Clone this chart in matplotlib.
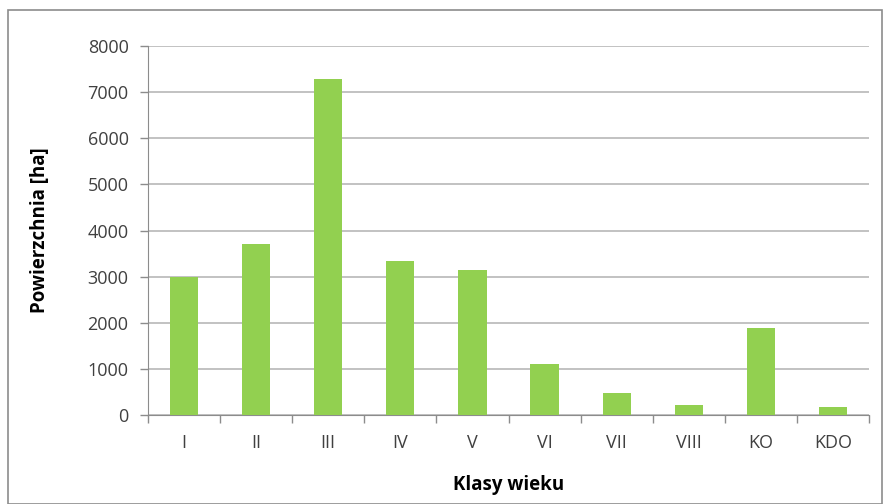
import matplotlib
matplotlib.use('Agg')
import matplotlib.pyplot as plt
from matplotlib.patches import Rectangle
import numpy as np

klasy = ['I', 'II', 'III', 'IV', 'V', 'VI', 'VII', 'VIII', 'KO', 'KDO']
powierzchnia = [2990, 3710, 7290, 3345, 3135, 1100, 478, 210, 1890, 167]

plt.rcParams['font.family'] = ['Open Sans', 'DejaVu Sans']

fig = plt.figure(figsize=(8.85, 5.04), dpi=100)
ax = fig.add_axes([148/885, 1-415/504, (869-148)/885, (415-46)/504])

# ramka wokol wykresu
fig.patches.append(Rectangle((8/885, 0.0), (882-8)/885, 1-10/504, transform=fig.transFigure,
                             fill=False, edgecolor='#8c8c8c', lw=1.2))

x = np.arange(len(klasy))
ax.bar(x, powierzchnia, width=0.39, color='#92D050', zorder=3)

ax.set_xlim(-0.5, len(klasy)-0.5)
ax.set_ylim(0, 8000)
ax.set_yticks(np.arange(0, 8001, 1000))
ax.grid(axis='y', color='#bdbdbd', lw=1.3, zorder=0)

ax.set_xticks(x)
ax.set_xticklabels(klasy)
ax.set_xticks(np.arange(-0.5, len(klasy), 1), minor=True)
ax.tick_params(axis='x', which='major', length=0, pad=14, labelsize=13, labelcolor='#404040')
ax.tick_params(axis='x', which='minor', length=6, color='#8c8c8c', width=1)
ax.tick_params(axis='y', length=6, color='#8c8c8c', width=1, pad=8, labelsize=13, labelcolor='#404040')

for s in ['top', 'right']:
    ax.spines[s].set_visible(False)
ax.spines['left'].set_color('#8c8c8c')
ax.spines['bottom'].set_color('#8c8c8c')

ax.set_xlabel('Klasy wieku', fontweight='bold', fontsize=13.5, va='center')
ax.set_ylabel('Powierzchnia [ha]', fontweight='bold', fontsize=13.5, va='center')
ax.xaxis.set_label_coords(0.5, (415-485)/369)
ax.yaxis.set_label_coords((40-148)/721, 0.5)

fig.savefig('out.png', dpi=100)
